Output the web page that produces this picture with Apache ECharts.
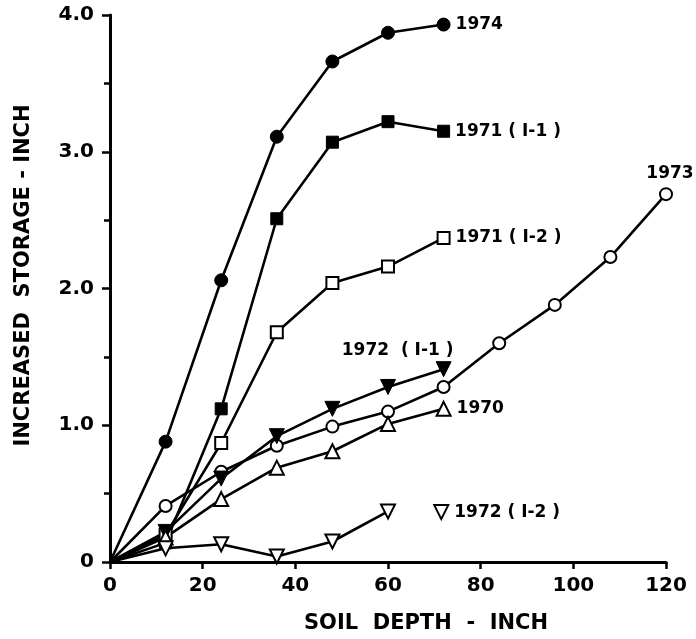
<!DOCTYPE html>
<html>
<head>
<meta charset="utf-8">
<script src="https://cdn.jsdelivr.net/npm/echarts@6/dist/echarts.min.js"></script>
<style>
  html, body { margin: 0; padding: 0; background: #fff; }
  #chart { width: 696px; height: 639px; }
</style>
</head>
<body>
<div id="chart"></div>
<script>
// Soil depth (inch) at which increased storage was measured
const depth = [0, 12, 24, 36, 48, 60, 72];
const depth1973 = [0, 12, 24, 36, 48, 60, 72, 84, 96, 108, 120];
const depth1972b = [0, 12, 24, 36, 48, 60];

// Increased storage (inch) per year / plot
const s1974 = [0, 0.88, 2.06, 3.11, 3.66, 3.87, 3.93];
const s1971a = [0, 0.14, 1.12, 2.51, 3.07, 3.22, 3.15];
const s1971b = [0, 0.20, 0.87, 1.68, 2.04, 2.16, 2.37];
const s1972a = [0, 0.22, 0.61, 0.92, 1.12, 1.28, 1.41];
const s1973 = [0, 0.41, 0.66, 0.85, 0.99, 1.10, 1.28, 1.60, 1.88, 2.23, 2.69];
const s1970 = [0, 0.18, 0.46, 0.69, 0.81, 1.01, 1.12];
const s1972b = [0, 0.10, 0.13, 0.04, 0.15, 0.37];

// Axis ticks
const xTicks = [0, 20, 40, 60, 80, 100, 120];
const yTicks = [0, 1, 2, 3, 4];

// Key marker for the 1972 (I-2) curve, in data units
const keyI2 = [71.5, 0.365];

const FONT = 'DejaVu Sans';
const labelStyle = { color: '#000', fontFamily: FONT, fontWeight: 'bold', fontSize: 17 };

function buildData(xs, ys, lastLabel) {
  return xs.map((x, i) => {
    const item = { value: [x, ys[i]] };
    if (i === 0) item.symbolSize = 0;
    if (i === xs.length - 1 && lastLabel) item.label = Object.assign({ show: true }, labelStyle, lastLabel);
    return item;
  });
}

function series(name, xs, ys, symbol, filled, size, rotate, lastLabel, extra) {
  return Object.assign({
    name: name,
    type: 'line',
    data: buildData(xs, ys, lastLabel),
    symbol: symbol,
    symbolSize: size,
    symbolRotate: rotate || 0,
    showAllSymbol: true,
    lineStyle: { color: '#000', width: 2.6 },
    itemStyle: filled
      ? { color: '#000', borderColor: '#000', borderWidth: 1 }
      : { color: '#fff', borderColor: '#000', borderWidth: 2 },
    emphasis: { disabled: true },
    animation: false,
    z: 2
  }, extra || {});
}

const chart = echarts.init(document.getElementById('chart'), null, { renderer: 'canvas' });

chart.setOption({
  backgroundColor: '#fff',
  animation: false,
  grid: { left: 110, right: 30, top: 15, bottom: 76 },
  xAxis: {
    type: 'value',
    min: xTicks[0],
    max: xTicks[xTicks.length - 1],
    interval: 20,
    name: 'SOIL  DEPTH  -  INCH',
    nameLocation: 'middle',
    nameGap: 51,
    nameTextStyle: { color: '#000', fontFamily: FONT, fontWeight: 'bold', fontSize: 21, padding: [0, 0, 0, 76] },
    axisLine: { lineStyle: { color: '#000', width: 3 } },
    axisTick: { show: true, length: 7, lineStyle: { color: '#000', width: 2.5 } },
    axisLabel: { color: '#000', fontFamily: FONT, fontWeight: 'bold', fontSize: 20, margin: 14 },
    splitLine: { show: false }
  },
  yAxis: {
    type: 'value',
    min: yTicks[0],
    max: yTicks[yTicks.length - 1],
    interval: 1,
    name: 'INCREASED  STORAGE - INCH',
    nameLocation: 'middle',
    nameGap: 76,
    nameTextStyle: { color: '#000', fontFamily: FONT, fontWeight: 'bold', fontSize: 21, padding: [0, 0, 0, 26] },
    axisLine: { show: true, lineStyle: { color: '#000', width: 3 } },
    axisTick: { show: true, length: 8, lineStyle: { color: '#000', width: 2.5 } },
    minorTick: { show: true, splitNumber: 2, length: 6, lineStyle: { color: '#000', width: 2.5 } },
    axisLabel: {
      color: '#000', fontFamily: FONT, fontWeight: 'bold', fontSize: 20, margin: 16,
      formatter: v => (v === 0 ? '0' : v.toFixed(1))
    },
    splitLine: { show: false }
  },
  series: [
    series('1974', depth, s1974, 'circle', true, 13, 0, { position: 'right', formatter: '1974' }),
    series('1971 (I-1)', depth, s1971a, 'rect', true, 12, 0, { position: 'right', formatter: '1971 ( I-1 )' }),
    series('1971 (I-2)', depth, s1971b, 'rect', false, 12, 0, { position: 'right', formatter: '1971 ( I-2 )' }),
    series('1973', depth1973, s1973, 'circle', false, 12, 0, { position: 'top', distance: 5, offset: [4, 0], formatter: '1973' }),
    series('1972 (I-1)', depth, s1972a, 'triangle', true, 15, 180, { position: 'top', distance: 2, offset: [-46, 0], formatter: '1972  ( I-1 )' }),
    series('1970', depth, s1970, 'triangle', false, 14, 0, { position: 'right', formatter: '1970' }),
    series('1972 (I-2)', depth1972b, s1972b, 'triangle', false, 14, 180, null, {
      markPoint: {
        symbol: 'triangle',
        symbolSize: 14,
        symbolRotate: 180,
        itemStyle: { color: '#fff', borderColor: '#000', borderWidth: 2 },
        label: Object.assign({ show: true, position: 'right', formatter: '1972 ( I-2 )' }, labelStyle),
        data: [{ coord: keyI2 }],
        animation: false
      }
    })
  ]
});
</script>
</body>
</html>
